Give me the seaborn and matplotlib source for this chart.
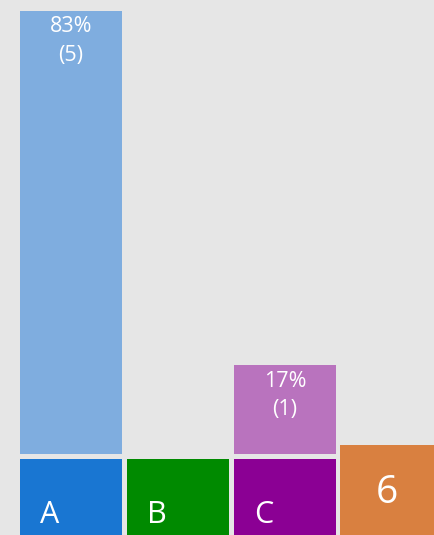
import matplotlib.pyplot as plt
import seaborn as sns

categories = ["A", "B", "C"]
counts = [5, 0, 1]
total = 6
light_colors = ["#7faddf", "#7fc47f", "#b973be"]
dark_colors = ["#1976d2", "#008a00", "#8b0094"]
total_color = "#d98040"
bg = "#e6e6e6"

sns.set_style("white", {"axes.facecolor": bg, "figure.facecolor": bg})
plt.rcParams["font.family"] = ["Open Sans", "DejaVu Sans"]

W, H = 434, 535
fig = plt.figure(figsize=(W / 100, H / 100), dpi=100)

# pixel layout: slots 107 px apart, first slot centred at x=71
slot = 107
x0 = 71
xlim = (-x0 / slot, (W - x0) / slot)
bar_w = 102 / slot

# upper part: percentage bars
ax = fig.add_axes([0, (H - 454) / H, 1, 454 / H])
sns.barplot(x=categories, y=counts, hue=categories, palette=light_colors,
            width=bar_w, legend=False, saturation=1, linewidth=0, ax=ax)
ax.set_xlim(*xlim)
ax.set_ylim(0, 454 / 88.6)
for i, c in enumerate(counts):
    if c == 0:
        continue
    pct = round(100 * c / total)
    ax.annotate(f"{pct}%", xy=(i, c), xytext=(0, -16), textcoords="offset pixels",
                ha="center", va="center", color="white", fontsize=15.5)
    ax.annotate(f"({c})", xy=(i, c), xytext=(0, -44), textcoords="offset pixels",
                ha="center", va="center", color="white", fontsize=15.5)
ax.axis("off")

# lower part: category blocks
ax2 = fig.add_axes([0, 0, 1, 76 / H])
sns.barplot(x=categories, y=[1] * len(categories), hue=categories, palette=dark_colors,
            width=bar_w, legend=False, saturation=1, linewidth=0, ax=ax2)
ax2.set_xlim(*xlim)
ax2.set_ylim(0, 1)
for i, name in enumerate(categories):
    ax2.annotate(name, xy=(i - bar_w / 2, 0), xytext=(20, 12), textcoords="offset pixels",
                 ha="left", va="baseline", color="white", fontsize=22)
ax2.axis("off")

# total box
ax3 = fig.add_axes([340 / W, 0, (W - 340) / W, 90 / H])
ax3.set_facecolor(total_color)
ax3.set_xticks([])
ax3.set_yticks([])
for s in ax3.spines.values():
    s.set_visible(False)
ax3.text(0.5, 0.47, str(total), ha="center", va="center", color="white",
         fontsize=28, transform=ax3.transAxes)

fig.savefig("out.png", dpi=100, facecolor=bg)
